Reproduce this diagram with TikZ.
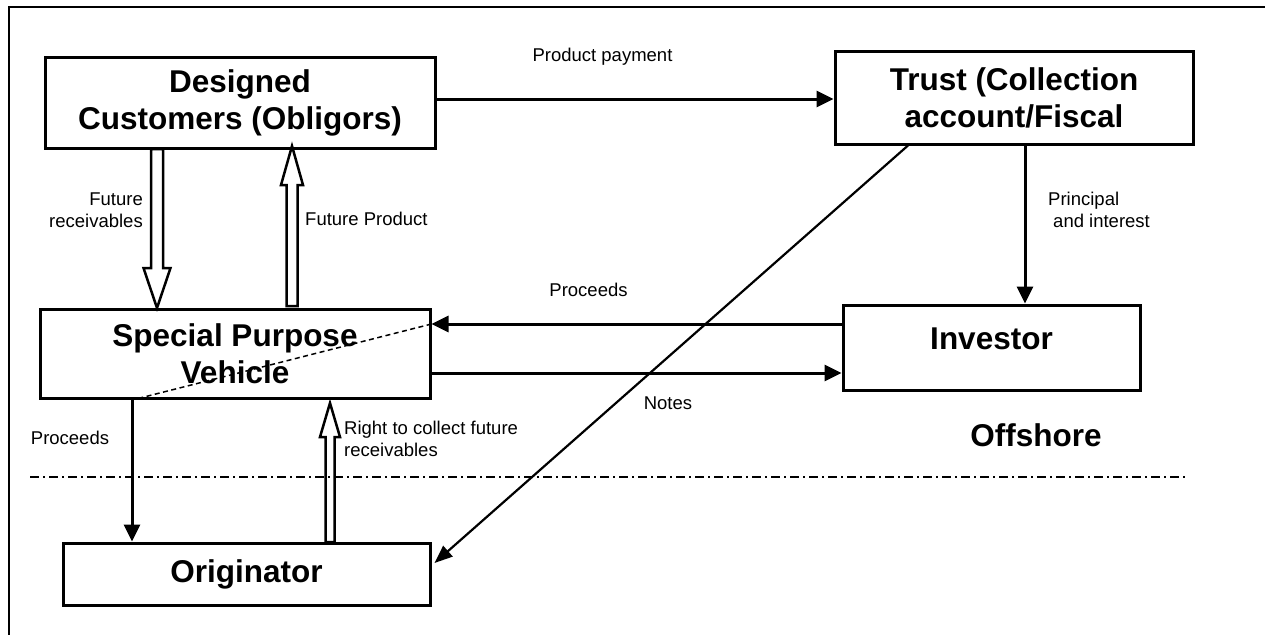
\documentclass[tikz,border=0pt]{standalone}
\usepackage{fontspec}
\setmainfont{Liberation Sans}
\usetikzlibrary{arrows.meta,calc}
\newcommand\harrow[6]{% x, ybase, ytip, yhead, shaft half width, head half width
  \draw[hollow] ({#1-#5},#2) -- ({#1+#5},#2) -- ({#1+#5},#4) -- ({#1+#6},#4) -- (#1,#3) -- ({#1-#6},#4) -- ({#1-#5},#4) -- cycle;}
\begin{document}
\begin{tikzpicture}[x=1pt,y=-1pt,
  box/.style={draw,line width=3pt,rectangle,inner sep=0pt,font=\fontsize{31.5}{37}\selectfont\bfseries,align=center},
  lbl/.style={font=\fontsize{18.5}{21.5}\selectfont,inner sep=0pt},
  conn/.style={line width=3pt,-{Triangle[length=17pt,width=16pt]}},
  diag/.style={line width=2.2pt,-{Triangle[length=18pt,width=14pt]}},
  hollow/.style={draw,line width=2.5pt,fill=white,line join=miter}]
\useasboundingbox (0,0) rectangle (1265,635);
% frame (top and left)
\draw[line width=2pt] (1265,7) -- (8.5,7) -- (8.5,635);
% boxes
\node[box,minimum width=390pt,minimum height=91pt] (dc) at (240,102.5) {Designed\\Customers (Obligors)};
\node[box,minimum width=358pt,minimum height=93pt] (trust) at (1014,97.5) {Trust (Collection\\account/Fiscal};
\node[box,minimum width=390pt,minimum height=89pt] (spv) at (235,353.5) {Special Purpose\\Vehicle};
\node[box,minimum width=367pt,minimum height=62pt] (orig) at (246.5,574) {Originator};
\node[box,minimum width=297pt,minimum height=85pt,text height=22pt,text depth=19pt] (inv) at (991.5,347.5) {Investor};
% helper coordinates
\coordinate (y99) at (0,99);
\coordinate (y324) at (0,324);
\coordinate (y373) at (0,373);
\coordinate (x132) at (132,0);
\coordinate (x1025) at (1025,0);
\coordinate (x908) at (908,0);
\coordinate (y563) at (0,563);
% dashed line inside SPV
\draw[line width=1.5pt,dash pattern=on 5pt off 3.5pt] (spv.east |- y324) -- (140,398);
% solid arrows
\draw[conn] (dc.east |- y99) -- (trust.west |- y99);
\draw[conn] (trust.south -| x1025) -- (inv.north -| x1025);
\draw[conn] (inv.west |- y324) -- (spv.east |- y324);
\draw[conn] (spv.east |- y373) -- (inv.west |- y373);
\draw[conn] (spv.south -| x132) -- (orig.north -| x132);
\draw[diag] (trust.south -| x908) -- ($(orig.east |- y563)+(3,0)$);
% hollow arrows
\harrow{157}{149}{308}{268}{6}{13.5}
\harrow{292}{306}{146}{185}{5.5}{11}
\harrow{330}{542}{403}{437}{4.5}{10}
% offshore boundary
\draw[line width=2pt,dash pattern=on 9pt off 4pt on 2pt off 4pt] (30,477) -- (1185,477);
% labels
\node[lbl] (l1) at (602.5,57) {Product payment};
\node[lbl,align=right,anchor=east] (l2) at (143,210) {Future\\receivables};
\node[lbl,anchor=west] (l3) at (305,219) {Future Product};
\node[lbl,align=left,anchor=west] (l4) at (1048,210) {Principal\\\hspace*{5pt}and interest};
\node[lbl] (l5) at (588.5,290) {Proceeds};
\node[lbl] (l6) at (668,403) {Notes};
\node[lbl] (l7) at (70,438) {Proceeds};
\node[lbl,align=left,anchor=west] (l8) at (344,439) {Right to collect future\\receivables};
\node[font=\fontsize{31.5}{37}\selectfont\bfseries,inner sep=0pt] (off) at (1036,435) {Offshore};
\end{tikzpicture}
\end{document}
